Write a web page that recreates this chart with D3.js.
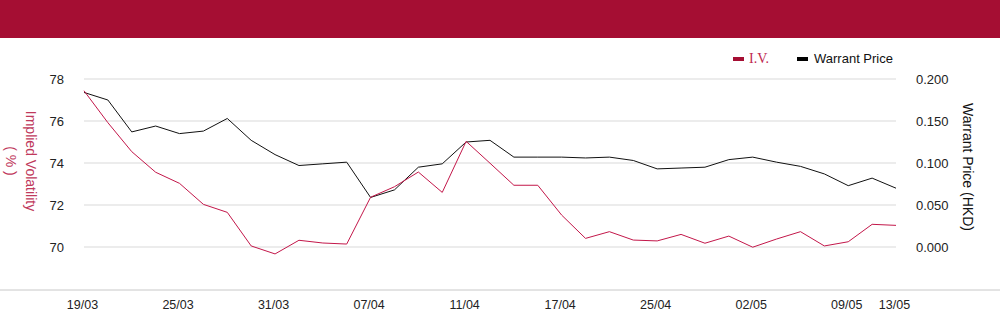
<!DOCTYPE html>
<html>
<head>
<meta charset="utf-8">
<script src="https://cdn.jsdelivr.net/npm/d3@7"></script>
<style>
  body { margin: 0; background: #fff; }
  text { font-family: "Liberation Sans", Arial, sans-serif; }
</style>
</head>
<body>
<script>
// ---------------------- data ----------------------
var dates = ["19/03","20/03","21/03","24/03","25/03","26/03","27/03","28/03","31/03",
  "01/04","02/04","03/04","07/04","08/04","09/04","10/04","11/04","14/04","15/04",
  "16/04","17/04","22/04","23/04","24/04","25/04","28/04","29/04","30/04","02/05",
  "06/05","07/05","08/05","09/05","12/05","13/05"];
var shownDates = ["19/03","25/03","31/03","07/04","11/04","17/04","25/04","02/05","09/05","13/05"];

var iv = [77.44,75.92,74.54,73.56,73.03,72.03,71.65,70.05,69.67,
  70.32,70.19,70.14,72.37,72.87,73.57,72.60,75.03,73.99,72.94,
  72.94,71.52,70.41,70.73,70.33,70.29,70.60,70.18,70.52,69.99,
  70.38,70.73,70.05,70.25,71.08,71.03];

var price = [0.184,0.175,0.137,0.144,0.135,0.138,0.153,0.127,0.110,
  0.097,0.099,0.101,0.059,0.068,0.095,0.099,0.125,0.127,0.107,
  0.107,0.107,0.106,0.107,0.103,0.093,0.094,0.095,0.104,0.107,
  0.101,0.096,0.087,0.073,0.082,0.070];

var ivTicks = [70, 72, 74, 76, 78];
var priceTicks = [0, 0.05, 0.10, 0.15, 0.20];

var ivColor = "#C3174A", priceColor = "#111111";

// ---------------------- svg ----------------------
var svg = d3.select("body")
     .append("svg")
     .attr("width", 1000)
     .attr("height", 324);

// header band
svg.append("rect")
     .attr("x", 0).attr("y", 0)
     .attr("width", 1000).attr("height", 38)
     .attr("fill", "#A50E33");

var x = d3.scalePoint().domain(dates).range([84, 896]);
var yL = d3.scaleLinear().domain([68, 78]).range([289, 79]);
var yR = d3.scaleLinear().domain([-0.05, 0.20]).range([289, 79]);

// gridlines
svg.append("g")
     .selectAll("line")
     .data(ivTicks)
     .enter()
     .append("line")
     .attr("x1", 84).attr("x2", 896)
     .attr("y1", d => yL(d)).attr("y2", d => yL(d))
     .attr("stroke", "#D9D9D9")
     .attr("stroke-width", 1);

// bottom line
svg.append("line")
     .attr("x1", 0).attr("x2", 1000)
     .attr("y1", 290).attr("y2", 290)
     .attr("stroke", "#C8C8C8");

// left axis
var leftAxis = svg.append("g")
     .attr("transform", "translate(64,0)")
     .call(d3.axisLeft(yL).tickValues(ivTicks).tickSize(0).tickPadding(0));
leftAxis.select(".domain").remove();
leftAxis.selectAll("text")
     .style("font-size", "13px")
     .attr("fill", "#222");

// right axis
var rightAxis = svg.append("g")
     .attr("transform", "translate(916,0)")
     .call(d3.axisRight(yR).tickValues(priceTicks).tickSize(0).tickPadding(0).tickFormat(d3.format(".3f")));
rightAxis.select(".domain").remove();
rightAxis.selectAll("text")
     .style("font-size", "13px")
     .attr("fill", "#222");

// bottom axis
var bottomAxis = svg.append("g")
     .attr("transform", "translate(-2,300)")
     .call(d3.axisBottom(x).tickValues(shownDates).tickSize(0).tickPadding(0));
bottomAxis.select(".domain").remove();
bottomAxis.selectAll("text")
     .style("font-family", "'Liberation Sans Narrow', 'Arial Narrow', sans-serif")
     .style("font-size", "12.5px")
     .attr("fill", "#222");

// axis titles
var lt = svg.append("text")
     .attr("transform", "translate(31,161) rotate(90)")
     .attr("text-anchor", "middle")
     .attr("fill", "#C0395C")
     .style("font-size", "14px");
lt.append("tspan").attr("x", 0).attr("dy", "0.35em").text("Implied Volatility");
lt.append("tspan").attr("x", 0).attr("dy", "1.45em").text("( % )");

svg.append("text")
     .attr("transform", "translate(968,167) rotate(90)")
     .attr("text-anchor", "middle")
     .attr("dy", "0.35em")
     .attr("fill", "#111")
     .style("font-size", "14px")
     .text("Warrant Price (HKD)");

// lines
svg.append("path")
     .datum(price)
     .attr("fill", "none")
     .attr("stroke", priceColor)
     .attr("stroke-width", 1)
     .attr("d", d3.line().x((d, i) => x(dates[i])).y(d => yR(d)));

svg.append("path")
     .datum(iv)
     .attr("fill", "none")
     .attr("stroke", ivColor)
     .attr("stroke-width", 1)
     .attr("d", d3.line().x((d, i) => x(dates[i])).y(d => yL(d)));

// legend
svg.append("rect").attr("x", 733).attr("y", 57).attr("width", 11).attr("height", 4).attr("fill", "#A50E33");
svg.append("text").attr("x", 749).attr("y", 63)
     .style("font-family", "'Liberation Serif', serif")
     .style("font-size", "14px")
     .attr("fill", "#C0284F")
     .text("I.V.");
svg.append("rect").attr("x", 797).attr("y", 57).attr("width", 11).attr("height", 4).attr("fill", "#000");
svg.append("text").attr("x", 814).attr("y", 63)
     .style("font-size", "13px")
     .attr("fill", "#111")
     .text("Warrant Price");
</script>
</body>
</html>
